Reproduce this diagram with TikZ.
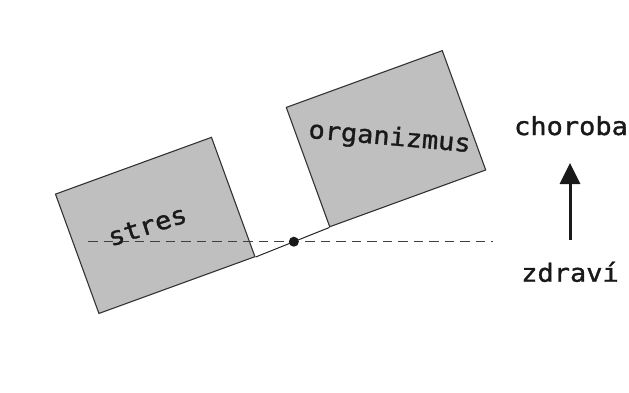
\documentclass[tikz,border=0pt]{standalone}
\usepackage{fontspec}
\newfontfamily\monof[FakeStretch=1.08,FakeBold=1.3]{DejaVu Sans Mono}
\usetikzlibrary{arrows.meta}
\tikzset{
  box/.style={draw=black!80, line width=1.1pt, fill=black!25, minimum width=166pt, minimum height=127pt, inner sep=0pt},
  lbl/.style={font=\monof\fontsize{25}{30}\selectfont, text=black!90, inner sep=0pt, anchor=base},
  lever/.style={draw=black!85, line width=1pt},
  level/.style={draw=black!75, line width=1pt, dash pattern=on 9.5pt off 6pt},
  pivot/.style={fill=black!90, circle, minimum size=10pt, inner sep=0pt},
  updir/.style={draw=black!90, line width=3pt, -{Triangle[width=20pt,length=21pt]}}
}
\begin{document}
\begin{tikzpicture}[x=1pt,y=1pt]
\useasboundingbox (0,0) rectangle (629,392);
% boxes
\node[box, rotate=20] (stresbox) at (155.2,166.6) {};
\node[box, rotate=20] (orgbox) at (386,253.3) {};
% dashed reference level
\coordinate (d0) at (88,150.3);
\coordinate (d1) at (493,150.3);
\draw[level] (d0) -- (d1);
% lever line
\draw[lever] (stresbox.south east) -- (orgbox.south west);
\node[pivot] (piv) at (intersection of stresbox.south east--orgbox.south west and d0--d1) {};
% labels
\node[lbl, rotate=18] (stres) at (150,158) {stres};
\node[lbl, rotate=-5] (org) at (389,247) {organizmus};
\node[lbl] (choroba) at (571,257) {choroba};
\node[lbl] (zdravi) at (570,110.3) {zdraví};
% arrow
\coordinate (a0) at (570,152);
\coordinate (a1) at (570,229);
\draw[updir] (a0) -- (a1);
\end{tikzpicture}
\end{document}
